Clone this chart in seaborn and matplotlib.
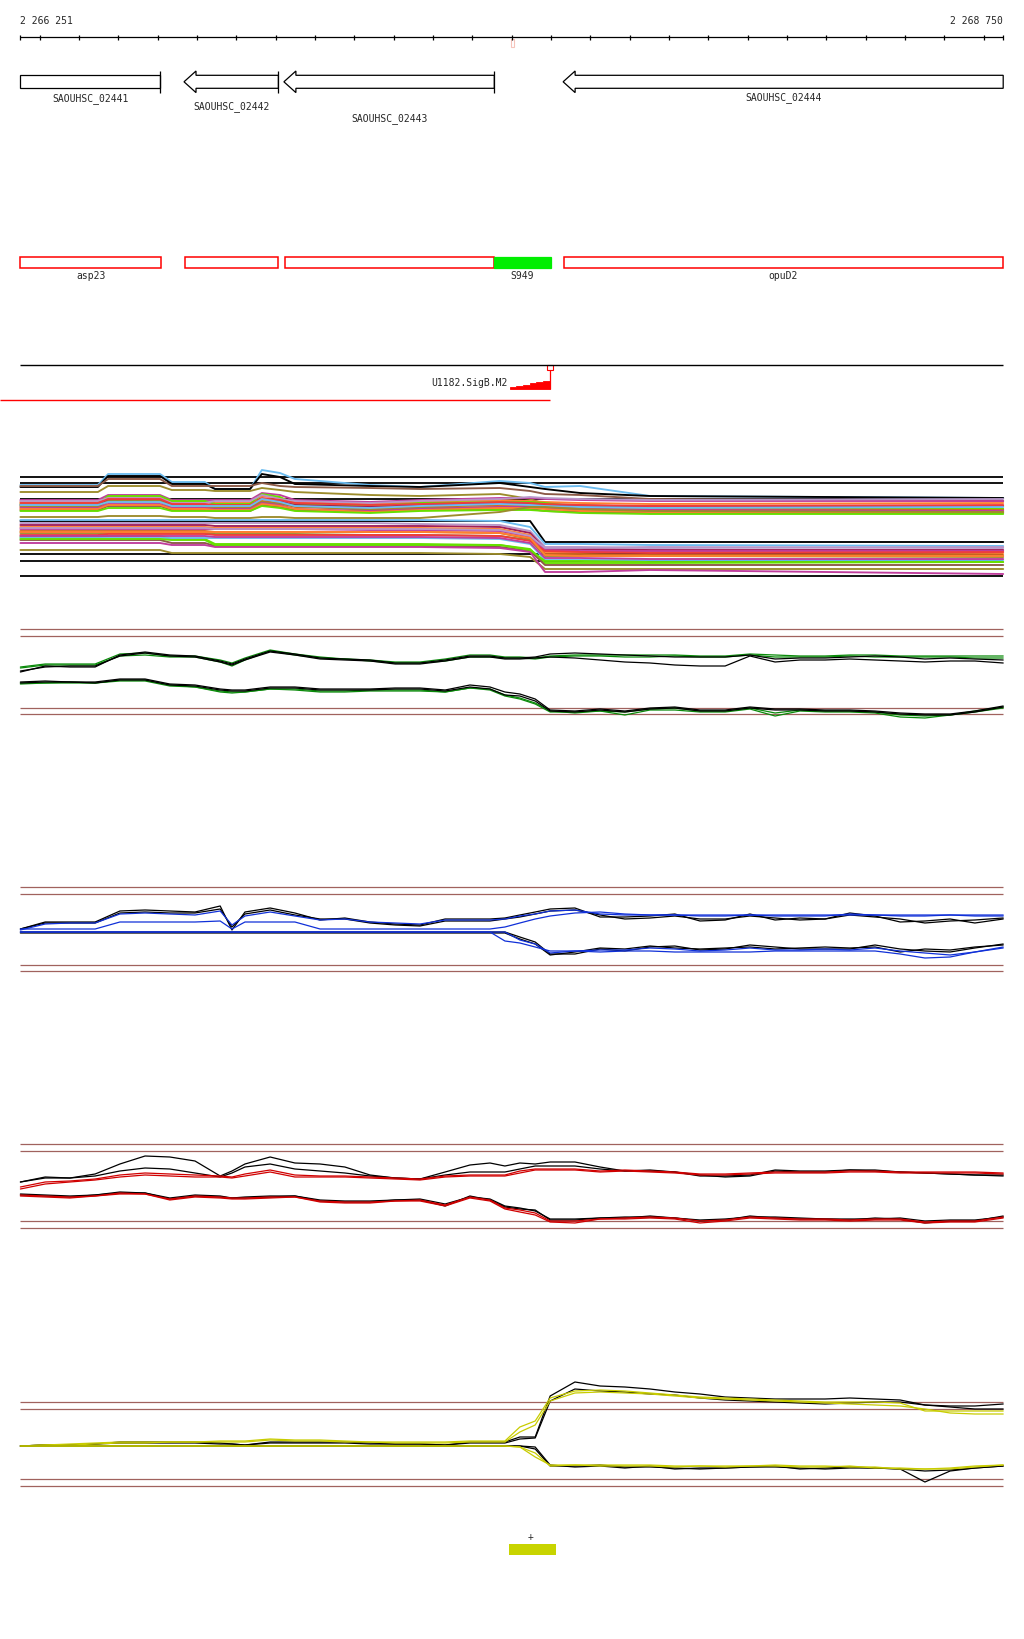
import matplotlib
matplotlib.use("Agg")
import matplotlib.pyplot as plt
from matplotlib.patches import Polygon, Rectangle
import pandas as pd
import seaborn as sns

sns.set_theme(style="white")
plt.rcParams['font.family'] = ['DejaVu Sans Mono', 'DejaVu Sans']

# ------------------------------------------------------------------ data
VIEW_START, VIEW_END = 2266251, 2268750
RULER_STEP = 100

GENE_NAMES = ['SAOUHSC_02441', 'SAOUHSC_02442', 'SAOUHSC_02443', 'SAOUHSC_02444']
GENE_START = [2266090, 2266667, 2266921, 2267631]
GENE_END = [2266607, 2266907, 2267456, 2268900]
GENE_STRAND = ['-', '-', '-', '-']

ANNOT_NAMES = ['asp23', '', '', 'S949', 'opuD2']
ANNOT_START = [2266251, 2266669, 2266923, 2267456, 2267632]
ANNOT_END = [2266608, 2266907, 2267456, 2267599, 2268750]
ANNOT_KIND = ['cds', 'cds', 'cds', 'srna', 'cds']

PROMOTER_NAME = 'U1182.SigB.M2'
PROMOTER_POS = 2267597

FEATURE_START, FEATURE_END, FEATURE_STRAND = 2267493, 2267612, '+'

# probe positions (fine grid for the condition panels)
FINE_POS = [2266251, 2266314, 2266377, 2266441, 2266504, 2266568, 2266631, 2266695, 2266759, 2266789,
            2266822, 2266886, 2266949, 2267013, 2267076, 2267140, 2267204, 2267267, 2267331, 2267394,
            2267445, 2267483, 2267521, 2267560, 2267598, 2267661, 2267725, 2267788, 2267852, 2267915,
            2267979, 2268043, 2268106, 2268170, 2268233, 2268297, 2268360, 2268424, 2268488, 2268551,
            2268615, 2268678, 2268750]

# coarse positions for the all-conditions panel
COARSE_POS = [2266251, 2266448, 2266474, 2266606, 2266636, 2266720, 2266746, 2266835, 2266865, 2266911,
              2266949, 2267140, 2267267, 2267470, 2267547, 2267585, 2267674, 2267852, 2268750]

# --- all conditions panel (signal units)
MULTI_THRESH = [106.7, 100.7, 85.3, 29.7, 22.7, 7.7]
MULTI = {
    'm_lb1': [99, 99, 110, 110, 102, 102, 95, 95, 114, 111, 105, 99, 97, 103, 101, 97, 98, 88, 86],
    'm_k1': [97, 97, 108, 108, 100, 100, 95, 95, 110, 107, 100, 98, 97, 101, 97, 95, 91, 88, 86],
    'm_br1': [98, 98, 105, 105, 98, 98, 98, 98, 101, 98, 97, 96, 95, 96, 93, 90, 89, 85, 83],
    'm_ol1': [92, 92, 98, 98, 94, 94, 93, 93, 96, 94, 92, 89, 88, 90, 85, 80, 79, 77, 75],
    'u1': [84, 84, 89, 89, 84, 84, 84, 84, 91, 89, 84, 82, 84, 86, 86, 85, 84, 83, 83],
    'u2': [82, 82, 87, 87, 82, 82, 81, 81, 88, 86, 82, 80, 82, 84, 83, 82, 81, 80, 81],
    'u3': [80, 80, 88, 88, 83, 83, 80, 80, 90, 87, 80, 78, 81, 82, 82, 81, 77, 76, 75],
    'u4': [83, 83, 86, 86, 81, 81, 83, 83, 89, 85, 83, 81, 83, 85, 87, 86, 85, 84, 85],
    'u5': [79, 79, 84, 84, 79, 79, 78, 78, 85, 83, 79, 77, 79, 81, 80, 79, 78, 78, 78],
    'u6': [77, 77, 82, 82, 77, 77, 77, 77, 83, 81, 77, 75, 77, 79, 79, 78, 76, 75, 74],
    'u7': [78, 78, 83, 83, 78, 78, 76, 76, 82, 80, 78, 74, 76, 77, 77, 76, 74, 73, 72],
    'u8': [81, 81, 85, 85, 80, 80, 79, 79, 86, 84, 81, 79, 80, 82, 81, 80, 79, 78, 79],
    'u9': [76, 76, 80, 80, 76, 76, 75, 75, 81, 79, 75, 73, 75, 77, 77, 76, 75, 74, 73],
    'u10': [79, 79, 82, 82, 78, 78, 78, 78, 85, 82, 78, 76, 78, 80, 79, 78, 77, 76, 77],
    'u11': [74, 74, 78, 78, 74, 74, 73, 73, 79, 77, 74, 72, 74, 75, 75, 73, 72, 71, 71],
    'u12': [75, 75, 79, 79, 75, 75, 74, 74, 80, 78, 75, 72, 74, 76, 76, 75, 73, 72, 72],
    'u13': [73, 73, 76, 76, 73, 73, 73, 73, 78, 76, 73, 71, 73, 74, 74, 73, 71, 70, 70],
    'm_ol2': [67, 67, 68, 68, 67, 67, 66, 66, 67, 67, 66, 66, 66, 72, 77, 77, 75, 73, 72],
    'd_k': [63, 63, 63, 63, 63, 63, 63, 63, 63, 63, 63, 63, 63, 63, 63, 42, 42, 42, 42],
    'd_lb': [64, 64, 64, 64, 64, 64, 64, 64, 64, 64, 64, 64, 64, 63, 57, 40, 40, 39, 38],
    'd1': [61, 61, 61, 61, 61, 61, 61, 61, 61, 61, 61, 61, 60, 59, 53, 37, 37, 36, 37],
    'd2': [59, 59, 59, 59, 59, 59, 58, 58, 58, 58, 58, 58, 58, 57, 51, 35, 35, 34, 34],
    'd3': [57, 57, 57, 57, 57, 57, 56, 56, 56, 56, 56, 56, 56, 55, 49, 32, 32, 32, 31],
    'd4': [55, 55, 55, 55, 55, 55, 55, 55, 55, 55, 55, 54, 54, 53, 47, 34, 33, 33, 33],
    'd5': [53, 53, 53, 53, 53, 53, 52, 52, 52, 52, 52, 52, 52, 51, 45, 30, 30, 29, 29],
    'd6': [51, 51, 51, 51, 51, 51, 50, 50, 50, 50, 50, 49, 49, 48, 44, 28, 28, 28, 27],
    'd7': [49, 49, 50, 50, 50, 50, 49, 49, 49, 49, 49, 49, 49, 48, 43, 33, 32, 31, 32],
    'd8': [47, 47, 48, 48, 45, 45, 40, 40, 40, 40, 40, 40, 40, 39, 35, 21, 21, 21, 22],
    'd9': [46, 46, 46, 46, 46, 46, 46, 46, 46, 46, 46, 46, 46, 45, 40, 24, 24, 24, 24],
    'd10': [44, 44, 44, 44, 41, 41, 38, 38, 38, 38, 38, 38, 38, 37, 33, 19, 19, 19, 19],
    'd11': [48, 48, 48, 48, 48, 48, 47, 47, 47, 47, 47, 47, 47, 46, 41, 26, 26, 25, 25],
    'd12': [34, 34, 34, 34, 31, 31, 31, 31, 31, 31, 31, 31, 31, 30, 27, 15, 15, 15, 15],
    'd13': [41, 41, 41, 41, 39, 39, 37, 37, 37, 37, 37, 37, 37, 36, 32, 12, 12, 14, 10],
    'd14': [56, 56, 56, 56, 56, 56, 55, 55, 55, 55, 55, 55, 55, 54, 48, 36, 36, 37, 36],
    'd15': [45, 45, 45, 45, 44, 44, 39, 39, 39, 39, 39, 39, 39, 39, 34, 23, 23, 22, 22],
    'd16': [52, 52, 52, 52, 52, 52, 52, 52, 52, 52, 52, 52, 52, 51, 46, 29, 28, 28, 28],
}

# --- condition panel 1 (green)
GREEN_THRESH = [99.7, 92.7, 21.3, 14.7]
GREEN_UP_K1 = [57, 63, 62, 62, 74, 77, 74, 73, 68, 65, 70, 78, 75, 71, 70, 69, 66, 66, 69, 73, 73, 71, 71, 72, 75, 76, 75, 74, 73, 72, 72, 72, 74, 70, 71, 71, 72, 73, 72, 70, 71, 70, 69]
GREEN_UP_K2 = [58, 62, 63, 63, 73, 76, 73, 72, 67, 64, 69, 77, 74, 70, 69, 68, 65, 65, 68, 72, 72, 70, 70, 71, 72, 71, 69, 67, 66, 64, 63, 63, 73, 67, 69, 69, 70, 69, 68, 67, 68, 68, 66]
GREEN_UP_C1 = [62, 65, 65, 65, 75, 76, 73, 73, 69, 66, 71, 79, 75, 72, 70, 69, 67, 67, 70, 74, 74, 72, 72, 71, 73, 74, 74, 74, 74, 74, 73, 73, 75, 74, 73, 73, 74, 74, 73, 73, 73, 73, 73]
GREEN_UP_C2 = [61, 64, 64, 64, 73, 74, 72, 72, 67, 63, 69, 78, 74, 71, 70, 68, 66, 66, 68, 72, 72, 71, 71, 70, 72, 73, 73, 72, 72, 73, 72, 72, 74, 72, 72, 72, 73, 72, 72, 72, 72, 71, 71]
GREEN_LO_K1 = [46, 47, 47, 47, 50, 50, 45, 44, 40, 39, 39, 42, 42, 40, 40, 40, 41, 41, 39, 44, 42, 37, 35, 30, 19, 18, 20, 18, 21, 22, 19, 19, 22, 20, 20, 19, 19, 18, 16, 15, 15, 18, 23]
GREEN_LO_K2 = [47, 48, 47, 46, 49, 49, 44, 43, 39, 38, 38, 41, 41, 39, 39, 39, 40, 40, 38, 42, 40, 34, 33, 28, 18, 17, 19, 17, 20, 21, 18, 18, 21, 19, 19, 18, 18, 17, 15, 14, 14, 17, 22]
GREEN_LO_C1 = [45, 46, 46, 46, 48, 48, 43, 42, 37, 36, 37, 40, 39, 37, 37, 38, 38, 38, 37, 41, 39, 33, 30, 25, 17, 17, 18, 14, 19, 19, 17, 17, 20, 13, 18, 17, 17, 16, 12, 11, 14, 17, 21]
GREEN_LO_C2 = [46, 46, 47, 46, 49, 49, 44, 42, 38, 37, 37, 40, 40, 38, 38, 39, 39, 39, 37, 41, 40, 34, 31, 26, 18, 16, 18, 17, 20, 21, 18, 18, 21, 16, 19, 18, 18, 17, 14, 13, 14, 18, 22]

# --- condition panel 2 (blue)
BLUE_THRESH = [101.7, 94.7, 24.3, 17.7]
BLUE_UP_K1 = [60, 67, 67, 67, 78, 79, 78, 77, 83, 59, 77, 81, 76, 69, 71, 67, 65, 64, 70, 70, 70, 71, 74, 77, 80, 81, 72, 72, 73, 75, 68, 69, 75, 69, 71, 70, 76, 73, 67, 68, 70, 66, 70]
BLUE_UP_K2 = [60, 66, 66, 66, 76, 77, 76, 76, 80, 62, 75, 79, 74, 70, 70, 66, 64, 63, 68, 68, 68, 70, 72, 75, 78, 79, 74, 70, 71, 73, 70, 70, 73, 71, 69, 70, 74, 72, 70, 66, 68, 69, 71]
BLUE_UP_C1 = [59, 65, 66, 66, 75, 76, 75, 74, 78, 64, 73, 77, 73, 69, 70, 67, 66, 65, 69, 69, 69, 70, 73, 75, 78, 79, 75, 74, 74, 74, 73, 73, 74, 73, 73, 73, 75, 74, 73, 73, 74, 73, 73]
BLUE_UP_C2 = [60, 60, 60, 60, 67, 67, 67, 67, 68, 60, 67, 67, 67, 60, 60, 60, 60, 60, 60, 60, 60, 62, 66, 70, 73, 76, 77, 75, 74, 74, 74, 74, 74, 74, 74, 74, 74, 74, 74, 74, 74, 74, 74]
BLUE_LO_K1 = [57, 57, 57, 57, 57, 57, 57, 57, 57, 57, 57, 57, 57, 57, 57, 57, 57, 57, 57, 57, 57, 57, 52, 47, 35, 35, 40, 38, 42, 43, 39, 40, 44, 42, 40, 40, 40, 44, 40, 38, 37, 41, 45]
BLUE_LO_K2 = [56, 56, 56, 56, 56, 56, 56, 56, 56, 56, 56, 56, 56, 56, 56, 56, 56, 56, 56, 56, 56, 56, 50, 45, 34, 37, 41, 40, 43, 41, 40, 41, 42, 40, 41, 42, 41, 42, 37, 40, 39, 42, 44]
BLUE_LO_C1 = [57, 57, 57, 57, 57, 57, 57, 57, 57, 57, 57, 57, 57, 57, 57, 57, 57, 57, 57, 57, 57, 48, 46, 42, 38, 38, 37, 38, 38, 37, 37, 37, 37, 38, 38, 38, 38, 38, 35, 31, 32, 37, 42]
BLUE_LO_C2 = [57, 57, 57, 57, 57, 57, 57, 57, 57, 57, 57, 57, 57, 57, 57, 57, 57, 57, 57, 57, 57, 57, 49, 45, 36, 38, 39, 39, 41, 40, 38, 39, 41, 39, 39, 40, 39, 41, 38, 36, 34, 37, 41]

# --- condition panel 3 (red)
RED_THRESH = [94.7, 87.7, 18.0, 11.0]
RED_UP_K1 = [57, 62, 61, 65, 75, 83, 82, 78, 63, 68, 75, 82, 76, 75, 72, 64, 61, 60, 67, 74, 76, 73, 76, 75, 77, 77, 72, 68, 69, 67, 63, 63, 64, 69, 68, 68, 69, 69, 67, 66, 65, 64, 63]
RED_UP_K2 = [57, 61, 61, 63, 68, 71, 70, 66, 62, 66, 72, 75, 70, 68, 66, 63, 61, 60, 64, 67, 67, 67, 70, 73, 73, 73, 70, 68, 68, 67, 64, 62, 63, 68, 67, 67, 69, 68, 67, 66, 65, 64, 64]
RED_UP_C1 = [52, 57, 58, 60, 64, 66, 65, 64, 63, 62, 65, 69, 64, 63, 63, 62, 61, 60, 63, 64, 64, 64, 68, 70, 70, 70, 68, 69, 68, 67, 65, 65, 66, 67, 67, 67, 68, 68, 67, 67, 67, 67, 66]
RED_UP_C2 = [50, 55, 57, 59, 62, 64, 63, 62, 62, 61, 63, 67, 62, 62, 62, 61, 60, 59, 62, 63, 63, 63, 66, 69, 69, 69, 67, 68, 67, 66, 64, 64, 65, 66, 66, 66, 67, 67, 66, 66, 66, 66, 65]
RED_LO_K1 = [44, 43, 42, 44, 46, 46, 40, 43, 42, 41, 41, 42, 43, 38, 37, 37, 39, 39, 33, 43, 39, 32, 30, 29, 19, 19, 21, 21, 23, 21, 18, 19, 23, 21, 20, 20, 19, 21, 20, 16, 18, 18, 23]
RED_LO_K2 = [45, 44, 43, 44, 47, 46, 41, 44, 43, 41, 42, 43, 43, 39, 38, 38, 39, 40, 35, 42, 40, 33, 31, 28, 20, 20, 21, 22, 22, 21, 19, 20, 22, 22, 21, 20, 20, 20, 21, 18, 19, 19, 22]
RED_LO_C1 = [43, 42, 41, 43, 45, 45, 39, 42, 41, 40, 40, 41, 42, 37, 36, 36, 38, 38, 33, 41, 38, 30, 27, 24, 17, 16, 20, 20, 21, 20, 16, 18, 21, 20, 19, 19, 18, 19, 19, 16, 17, 17, 21]
RED_LO_C2 = [44, 43, 42, 43, 46, 45, 40, 43, 42, 41, 41, 42, 42, 38, 37, 37, 38, 39, 34, 42, 39, 31, 29, 26, 18, 18, 20, 21, 22, 21, 18, 19, 22, 21, 20, 20, 19, 20, 20, 17, 18, 18, 22]

# --- condition panel 4 (yellow)
YEL_THRESH = [96.7, 89.7, 20.0, 12.7]
YEL_UP_K1 = [53, 54, 54, 55, 57, 57, 57, 57, 56, 55, 54, 57, 57, 57, 57, 56, 55, 55, 54, 57, 57, 57, 62, 62, 103, 117, 113, 112, 110, 107, 105, 102, 101, 100, 100, 100, 101, 100, 99, 94, 93, 93, 95]
YEL_UP_K2 = [53, 54, 54, 55, 56, 56, 56, 56, 55, 55, 54, 56, 56, 56, 56, 55, 55, 55, 54, 56, 56, 56, 60, 61, 98, 110, 108, 107, 105, 104, 101, 99, 98, 97, 96, 95, 96, 97, 97, 94, 92, 90, 90]
YEL_UP_C1 = [53, 54, 55, 56, 57, 57, 57, 57, 58, 58, 58, 60, 59, 59, 58, 57, 57, 57, 57, 58, 58, 58, 72, 78, 101, 108, 109, 108, 106, 104, 102, 101, 100, 99, 98, 97, 97, 97, 96, 88, 88, 88, 88]
YEL_UP_C2 = [53, 54, 54, 55, 56, 56, 57, 57, 57, 57, 57, 59, 58, 58, 57, 57, 56, 56, 56, 57, 57, 57, 67, 74, 98, 106, 107, 106, 105, 103, 101, 100, 99, 98, 97, 96, 95, 94, 93, 90, 86, 85, 85]
YEL_LO_K1 = [53, 53, 53, 53, 53, 53, 53, 53, 53, 53, 53, 53, 53, 53, 53, 53, 53, 53, 53, 53, 53, 53, 53, 52, 34, 32, 33, 31, 33, 30, 31, 31, 32, 33, 30, 31, 32, 31, 30, 17, 28, 31, 33]
YEL_LO_K2 = [53, 53, 53, 53, 53, 53, 53, 53, 53, 53, 53, 53, 53, 53, 53, 53, 53, 53, 53, 53, 53, 53, 53, 50, 33, 33, 34, 32, 32, 31, 30, 31, 32, 32, 31, 30, 31, 31, 30, 28, 29, 31, 33]
YEL_LO_C1 = [53, 53, 53, 53, 53, 53, 53, 53, 53, 53, 53, 53, 53, 53, 53, 53, 53, 53, 53, 53, 53, 53, 52, 42, 34, 34, 34, 34, 34, 33, 33, 33, 33, 34, 33, 33, 32, 32, 30, 30, 30, 32, 34]
YEL_LO_C2 = [53, 53, 53, 53, 53, 53, 53, 53, 53, 53, 53, 53, 53, 53, 53, 53, 53, 53, 53, 53, 53, 53, 52, 46, 33, 34, 33, 33, 33, 32, 33, 32, 33, 33, 32, 32, 33, 31, 31, 30, 31, 33, 34]

# ------------------------------------------------------------------ layout / style
FIG_W, FIG_H = 1024, 1640
PX_LEFT, PX_RIGHT = 20.4, 1003.2
BP_PER_PX = (VIEW_END - VIEW_START) / (PX_RIGHT - PX_LEFT)
XLIM = (VIEW_START - PX_LEFT * BP_PER_PX, VIEW_END + (FIG_W - PX_RIGHT) * BP_PER_PX)
FS = 7.0
THRESH_COLOR = '#a0625e'

MULTI_COLORS = {
    'm_lb1': '#6cbcf0', 'm_k1': '#000000', 'm_br1': '#8c5a46', 'm_ol1': '#9c8c2c',
    'u1': '#c03c9c', 'u2': '#ff8030', 'u3': '#66e000', 'u4': '#b896c8', 'u5': '#a01e5a',
    'u6': '#d2691e', 'u7': '#9c8c2c', 'u8': '#f03c3c', 'u9': '#c03c9c', 'u10': '#6cbcf0',
    'u11': '#8c5a46', 'u12': '#ff8030', 'u13': '#66e000', 'm_ol2': '#9c8c2c',
    'd_k': '#000000', 'd_lb': '#6cbcf0', 'd1': '#b896c8', 'd2': '#a01e5a', 'd3': '#ff8030',
    'd4': '#c03c9c', 'd5': '#d2691e', 'd6': '#9c8c2c', 'd7': '#f03c3c', 'd8': '#66e000',
    'd9': '#6cbcf0', 'd10': '#8c5a46', 'd11': '#c03c9c', 'd12': '#9c8c2c', 'd13': '#c03c9c',
    'd14': '#b896c8', 'd15': '#66e000', 'd16': '#ff8030',
}

fig = plt.figure(figsize=(FIG_W / 100, FIG_H / 100), dpi=100)
fig.patch.set_facecolor('white')


def band_axes(top, bottom, invert=False):
    ax = fig.add_axes([0, 1 - bottom / FIG_H, 1, (bottom - top) / FIG_H])
    ax.set_xlim(XLIM)
    if invert:
        ax.set_ylim(bottom, top)
    else:
        ax.set_ylim(0, bottom - top)
    ax.axis('off')
    return ax


def fmt(n):
    return f"{n:,}".replace(",", " ")


# ------------------------------------------------------------------ top annotation area
ax = band_axes(0, 420, invert=True)

# ruler
RULER_Y = 38.3
ax.hlines(RULER_Y, VIEW_START, VIEW_END, color='black', lw=0.9)
ticks = [VIEW_START] + list(range((VIEW_START // RULER_STEP + 1) * RULER_STEP, VIEW_END, RULER_STEP)) + [VIEW_END]
ax.vlines(ticks, RULER_Y - 2.4, RULER_Y + 2.4, color='black', lw=0.9)
ax.text(VIEW_START, 20.7, fmt(VIEW_START), ha='left', va='center', fontsize=FS)
ax.text(VIEW_END, 20.7, fmt(VIEW_END), ha='right', va='center', fontsize=FS)
center = (VIEW_START + VIEW_END) / 2
ax.add_patch(Rectangle((center - 1.2 * BP_PER_PX, 39.5), 3.0 * BP_PER_PX, 8.5,
                       fill=False, edgecolor='#f6c4bb', lw=0.8))

# genes
GENE_YC, BODY_H, HEAD_H, HEAD_BP = 82.8, 6.5, 10.8, 12 * BP_PER_PX
GENE_LABEL_ROW = [98.3, 107.0, 118.3, 97.3]
for name, s0, e0, strand, ly in zip(GENE_NAMES, GENE_START, GENE_END, GENE_STRAND, GENE_LABEL_ROW):
    s, e = max(s0, VIEW_START), min(e0, VIEW_END)
    if strand == '-':
        head_in, tail_in, tip, tail = s0 >= VIEW_START, e0 <= VIEW_END, s, e
        d = 1
    else:
        head_in, tail_in, tip, tail = e0 <= VIEW_END, s0 >= VIEW_START, e, s
        d = -1
    if head_in:
        hb = tip + d * HEAD_BP
        pts = [(tip, GENE_YC), (hb, GENE_YC - HEAD_H), (hb, GENE_YC - BODY_H), (tail, GENE_YC - BODY_H),
               (tail, GENE_YC + BODY_H), (hb, GENE_YC + BODY_H), (hb, GENE_YC + HEAD_H)]
    else:
        pts = [(s, GENE_YC - BODY_H), (e, GENE_YC - BODY_H), (e, GENE_YC + BODY_H), (s, GENE_YC + BODY_H)]
    ax.add_patch(Polygon(pts, closed=True, facecolor='white', edgecolor='black', lw=0.9))
    if tail_in:
        ax.vlines(tail, GENE_YC - HEAD_H, GENE_YC + HEAD_H, color='black', lw=0.9)
    ax.text((s + e) / 2, ly, name, ha='center', va='center', fontsize=FS)

# annotation boxes
BOX_TOP, BOX_BOT, BOX_LABEL = 258.3, 268.7, 275.7
for name, s, e, kind in zip(ANNOT_NAMES, ANNOT_START, ANNOT_END, ANNOT_KIND):
    if kind == 'srna':
        ax.add_patch(Rectangle((s, BOX_TOP), e - s, BOX_BOT - BOX_TOP, facecolor='#00ee00',
                               edgecolor='#00ee00', lw=0.9))
    else:
        ax.add_patch(Rectangle((s, BOX_TOP), e - s, BOX_BOT - BOX_TOP, facecolor='white',
                               edgecolor='#ff0000', lw=1.1))
    if name:
        ax.text((s + e) / 2, BOX_LABEL, name, ha='center', va='center', fontsize=FS)

# promoter track
PROM_LINE_Y = 366.3
ax.hlines(PROM_LINE_Y, VIEW_START, VIEW_END, color='black', lw=1.0)
ax.add_patch(Rectangle((PROMOTER_POS - 3 * BP_PER_PX, PROM_LINE_Y), 6 * BP_PER_PX, 4.2,
                       fill=False, edgecolor='#ff0000', lw=0.8))
TRI_BOT, TRI_H, TRI_W, NSTEP = 389.7, 8.0, 40 * BP_PER_PX, 6
ax.vlines(PROMOTER_POS, PROM_LINE_Y + 4.2, TRI_BOT, color='#ff0000', lw=0.9)
x0 = PROMOTER_POS - TRI_W
pts = [(x0, TRI_BOT)]
for i in range(NSTEP):
    yy = TRI_BOT - (i + 1) * TRI_H / NSTEP
    pts += [(x0 + i * TRI_W / NSTEP, yy), (x0 + (i + 1) * TRI_W / NSTEP, yy)]
pts += [(PROMOTER_POS, TRI_BOT)]
ax.add_patch(Polygon(pts, closed=True, facecolor='#ff0000', edgecolor='#ff0000', lw=0.6))
ax.text(x0 - 2 * BP_PER_PX, 383.3, PROMOTER_NAME, ha='right', va='center', fontsize=FS)
ax.hlines(401.3, XLIM[0], PROMOTER_POS, color='#ff0000', lw=1.0)

# ------------------------------------------------------------------ all-conditions panel
axm = band_axes(455, 585)
axm.hlines(MULTI_THRESH, VIEW_START, VIEW_END, color='black', lw=1.3)
mdf = pd.DataFrame([(k, p, v) for k, vals in MULTI.items() for p, v in zip(COARSE_POS, vals)],
                   columns=['series', 'pos', 'signal'])
sns.lineplot(data=mdf, x='pos', y='signal', hue='series', palette=MULTI_COLORS, ax=axm,
             estimator=None, sort=False, legend=False, linewidth=1.35)
axm.set_xlim(XLIM); axm.set_ylim(0, 130); axm.axis('off')


# ------------------------------------------------------------------ condition panels
def condition_panel(top, bottom, thresh, series, color):
    axc = band_axes(top, bottom)
    axc.hlines(thresh, VIEW_START, VIEW_END, color=THRESH_COLOR, lw=0.9)
    rows = []
    for name, vals in series.items():
        rows += [(name, p, v) for p, v in zip(FINE_POS, vals)]
    df = pd.DataFrame(rows, columns=['series', 'pos', 'signal'])
    pal = {n: ('black' if n.endswith(('K1', 'K2')) else color) for n in series}
    sns.lineplot(data=df, x='pos', y='signal', hue='series', palette=pal, ax=axc,
                 estimator=None, sort=False, legend=False, linewidth=0.9)
    axc.set_xlim(XLIM); axc.set_ylim(0, bottom - top); axc.axis('off')
    return axc


condition_panel(620, 730, GREEN_THRESH,
                {'up_C1': GREEN_UP_C1, 'up_C2': GREEN_UP_C2, 'up_K1': GREEN_UP_K1, 'up_K2': GREEN_UP_K2,
                 'lo_C1': GREEN_LO_C1, 'lo_C2': GREEN_LO_C2, 'lo_K1': GREEN_LO_K1, 'lo_K2': GREEN_LO_K2},
                '#0a8a0a')
condition_panel(880, 990, BLUE_THRESH,
                {'up_K1': BLUE_UP_K1, 'up_K2': BLUE_UP_K2, 'up_C1': BLUE_UP_C1, 'up_C2': BLUE_UP_C2,
                 'lo_K1': BLUE_LO_K1, 'lo_K2': BLUE_LO_K2, 'lo_C1': BLUE_LO_C1, 'lo_C2': BLUE_LO_C2},
                '#1030d8')
condition_panel(1140, 1240, RED_THRESH,
                {'up_K1': RED_UP_K1, 'up_K2': RED_UP_K2, 'up_C1': RED_UP_C1, 'up_C2': RED_UP_C2,
                 'lo_K1': RED_LO_K1, 'lo_K2': RED_LO_K2, 'lo_C1': RED_LO_C1, 'lo_C2': RED_LO_C2},
                '#d00000')
condition_panel(1375, 1500, YEL_THRESH,
                {'up_K1': YEL_UP_K1, 'up_K2': YEL_UP_K2, 'up_C1': YEL_UP_C1, 'up_C2': YEL_UP_C2,
                 'lo_K1': YEL_LO_K1, 'lo_K2': YEL_LO_K2, 'lo_C1': YEL_LO_C1, 'lo_C2': YEL_LO_C2},
                '#c8cc00')

# ------------------------------------------------------------------ bottom feature
axf = band_axes(1525, 1565, invert=True)
axf.add_patch(Rectangle((FEATURE_START, 1544.7), FEATURE_END - FEATURE_START, 11.0,
                        facecolor='#c8d400', edgecolor='none'))
axf.text((FEATURE_START + FEATURE_END) / 2 - 2 * BP_PER_PX, 1537.3, FEATURE_STRAND,
         ha='center', va='center', fontsize=FS)

fig.savefig('out.png', dpi=100, facecolor='white')
